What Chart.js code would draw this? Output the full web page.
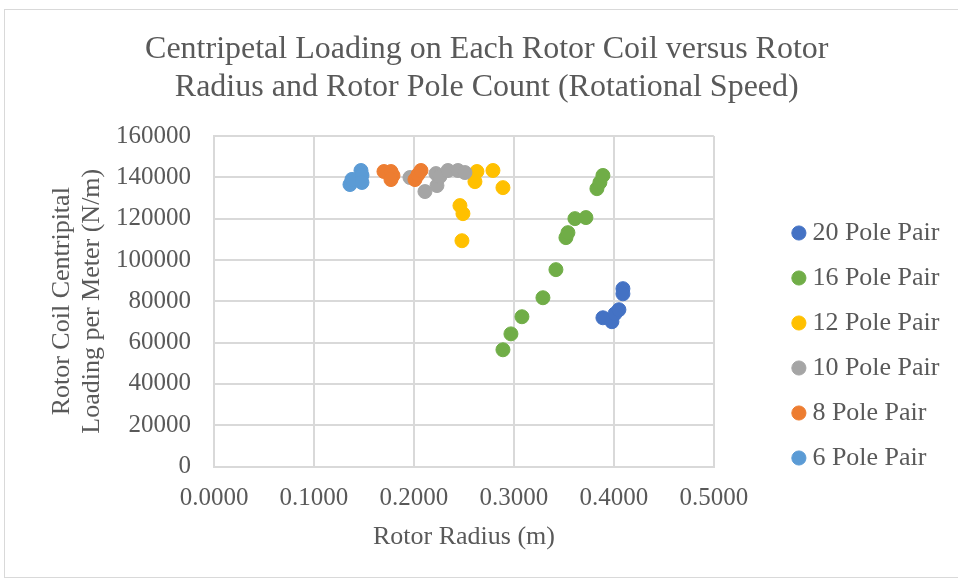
<!DOCTYPE html>
<html>
<head>
<meta charset="utf-8">
<title>Centripetal Loading</title>
<script src="https://cdn.jsdelivr.net/npm/chart.js@4.4.1/dist/chart.umd.min.js"></script>
<style>
  html, body { margin: 0; padding: 0; background: #fff; }
  .wrap  { position: relative; width: 958px; height: 578px; overflow: hidden; }
  .frame { position: absolute; left: 4px; top: 9px; width: 1000px; height: 567px; border: 1px solid #d9d9d9; }
  canvas { position: absolute; left: 0; top: 0; }
</style>
</head>
<body>
<div class="wrap">
  <div class="frame"></div>
  <canvas id="chart" width="958" height="578"></canvas>
</div>
<script>
// ── data ──
const SERIES_LABELS = ['20 Pole Pair', '16 Pole Pair', '12 Pole Pair', '10 Pole Pair', '8 Pole Pair', '6 Pole Pair'];

// rotor radius (m) / centripetal loading (N/m)
const radius20 = [0.389, 0.398, 0.401, 0.405, 0.409, 0.409];
const load20   = [72000, 70100, 73900, 75900, 86100, 83600];

const radius16 = [0.289, 0.297, 0.308, 0.329, 0.342, 0.352, 0.354, 0.361, 0.372, 0.383, 0.386, 0.389];
const load16   = [56500, 64200, 72500, 81700, 95300, 110800, 113200, 120000, 120500, 134500, 137500, 140900];

const radius12 = [0.246, 0.249, 0.248, 0.261, 0.263, 0.279, 0.289];
const load12   = [126300, 122400, 109300, 137900, 142800, 143300, 135000];

const radius10 = [0.196, 0.211, 0.223, 0.222, 0.226, 0.234, 0.244, 0.251];
const load10   = [139900, 133100, 136000, 141800, 140400, 143300, 143300, 142300];

const radius8  = [0.170, 0.177, 0.179, 0.177, 0.201, 0.204, 0.207];
const load8    = [142800, 142800, 140900, 138900, 138900, 141300, 143300];

const radius6  = [0.136, 0.138, 0.147, 0.148, 0.148];
const load6    = [136500, 139000, 143300, 141000, 137500];

const xTickValues = [0, 0.1, 0.2, 0.3, 0.4, 0.5];
const yTickValues = [0, 20000, 40000, 60000, 80000, 100000, 120000, 140000, 160000];

const TITLE_LINES  = ['Centripetal Loading on Each Rotor Coil versus Rotor', 'Radius and Rotor Pole Count (Rotational Speed)'];
const X_TITLE      = 'Rotor Radius (m)';
const Y_TITLE      = ['Rotor Coil Centripital', 'Loading per Meter (N/m)'];

// ── style ──
const COLORS = ['#4472c4', '#70ad47', '#ffc000', '#a5a5a5', '#ed7d31', '#5b9bd5'];
const TEXT   = '#595959';
const GRID   = '#d9d9d9';

Chart.defaults.font.family = "'Liberation Serif', 'Times New Roman', serif";
Chart.defaults.color       = TEXT;

const radii = [radius20, radius16, radius12, radius10, radius8, radius6];
const loads = [load20, load16, load12, load10, load8, load6];

const datasets = SERIES_LABELS.map((label, i) => ({
  label,
  data:             radii[i].map((x, j) => ({ x, y: loads[i][j] })),
  backgroundColor:  COLORS[i],
  borderColor:      COLORS[i],
  pointRadius:      7,
  pointHoverRadius: 7,
  pointBorderWidth: 1,
  // later series sit on top, as in Excel
  order:            SERIES_LABELS.length - i,
}));

// nudge the legend column down after layout
const legendShift = {
  id: 'legendShift',
  afterLayout(chart, args, opts) {
    if (!chart.legend) return;
    chart.legend.top    += opts.dy;
    chart.legend.bottom += opts.dy;
  },
};

new Chart(document.getElementById('chart'), {
  type: 'scatter',
  data: { datasets },
  plugins: [legendShift],
  options: {
    responsive: false,
    animation:  false,
    layout: { padding: { left: 24, right: 8.5, top: 0, bottom: 0 } },
    plugins: {
      title: {
        display: true,
        text:    TITLE_LINES,
        color:   TEXT,
        font:    { size: 32, weight: 'normal', lineHeight: 1.1875 },
        padding: { top: 31, bottom: 29 },
      },
      legend: {
        position: 'right',
        fullSize: false,
        align:    'end',
        maxWidth: 400,
        labels: {
          usePointStyle: true,
          pointStyle:    'circle',
          boxWidth:      1,
          boxHeight:     10,
          padding:       19,
          color:         TEXT,
          font:          { size: 26 },
          sort:          (a, b) => a.datasetIndex - b.datasetIndex,
        },
      },
      tooltip:     { enabled: false },
      legendShift: { dy: 23.5 },
    },
    scales: {
      x: {
        type: 'linear',
        min:  0,
        max:  0.5,
        afterBuildTicks: (s) => { s.ticks = xTickValues.map((v) => ({ value: v })); },
        ticks: {
          callback:    (v) => Number(v).toFixed(4),
          font:        { size: 25 },
          padding:     17,
          maxRotation: 0,
        },
        grid:   { color: GRID, lineWidth: 2, drawTicks: false },
        border: { color: GRID, width: 2 },
        title: {
          display: true,
          text:    X_TITLE,
          font:    { size: 26, lineHeight: 1.15 },
          padding: { top: 0, bottom: 26 },
        },
        afterFit: (s) => { s.height = 111.5; },
      },
      y: {
        type: 'linear',
        min:  0,
        max:  160000,
        afterBuildTicks: (s) => { s.ticks = yTickValues.map((v) => ({ value: v })); },
        ticks: {
          callback: (v) => String(v),
          font:     { size: 25 },
          padding:  23,
        },
        grid:   { color: GRID, lineWidth: 2, drawTicks: false },
        border: { color: GRID, width: 2 },
        title: {
          display: true,
          text:    Y_TITLE,
          font:    { size: 26, lineHeight: 1.154 },
          padding: { top: 23, bottom: 0 },
        },
        afterFit: (s) => { s.width = 190; },
      },
      // empty gap between plot and legend
      yGap: {
        type:     'linear',
        position: 'right',
        grid:     { display: false },
        border:   { display: false },
        ticks:    { display: false },
        afterFit: (s) => { s.width = 65.5; },
      },
    },
  },
});
</script>
</body>
</html>
